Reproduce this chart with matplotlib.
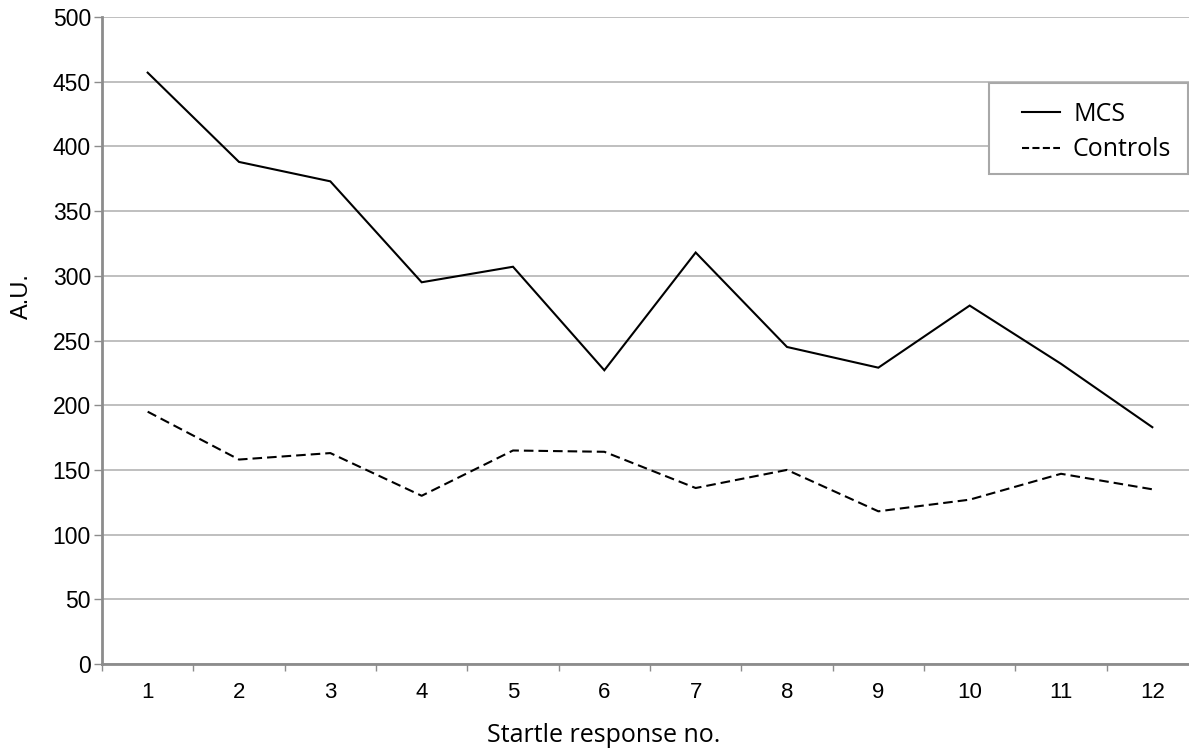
import matplotlib
matplotlib.use('Agg')
import matplotlib.pyplot as plt
from matplotlib.lines import Line2D
from matplotlib.patches import Rectangle
import numpy as np

# Startle responses (A.U.)
responses = list(range(1, 13))
mcs = [457, 388, 373, 295, 307, 227, 318, 245, 229, 277, 232, 183]
controls = [195, 158, 163, 130, 165, 164, 136, 150, 118, 127, 147, 135]
y_ticks = [0, 50, 100, 150, 200, 250, 300, 350, 400, 450, 500]

grid_col = '#b4b4b4'
spine_col = '#8c8c8c'
W, H = 1189, 749

fig = plt.figure(figsize=(W / 100, H / 100), dpi=100)
# axes run slightly past the right edge, as in the cropped original
ax = fig.add_axes([102 / W, 85 / H, 1096 / W, 647 / H])

ax.plot(responses, mcs, color='black', linewidth=1.5, solid_joinstyle='miter')
ax.plot(responses, controls, color='black', linewidth=1.5, dashes=(4.6, 2.4))

ax.set_xlim(0.5, 12.5)
ax.set_ylim(0, 500)
ax.set_yticks(y_ticks)
ax.set_xticks(responses)
ax.set_xticks(np.arange(0.5, 13, 1), minor=True)
ax.tick_params(axis='x', which='major', length=0, pad=13, labelsize=16)
ax.tick_params(axis='x', which='minor', length=5, width=1, color=spine_col, direction='out')
ax.tick_params(axis='y', length=6, width=1, color=spine_col, labelsize=16.5, pad=2)
for lab in ax.get_xticklabels() + ax.get_yticklabels():
    lab.set_fontfamily('Liberation Sans')

ax.yaxis.grid(True, color=grid_col, linewidth=1.2)
ax.set_axisbelow(True)
for side in ['top', 'right']:
    ax.spines[side].set_visible(False)
for side in ['left', 'bottom']:
    ax.spines[side].set_color(spine_col)
    ax.spines[side].set_linewidth(2)

fig.text(22 / W, 1 - 296 / H, 'A.U.', fontsize=17, family='Liberation Sans',
         rotation=90, ha='center', va='center')
fig.text(604 / W, 1 - 735 / H, 'Startle response no.', fontsize=18,
         family='Open Sans', ha='center', va='center')

# legend box drawn separately so the padding can match the original
fig.patches.append(Rectangle((989 / W, 1 - 174 / H), 199 / W, 91 / H,
                             transform=fig.transFigure, facecolor='white',
                             edgecolor='#a8a8a8', linewidth=1.5, zorder=5))
handles = [Line2D([], [], color='black', linewidth=1.5),
           Line2D([], [], color='black', linewidth=1.5, dashes=(3.4, 1.6))]
leg = fig.legend(handles, ['MCS', 'Controls'], loc='upper left',
                 bbox_to_anchor=(1022 / W, 1 - 102 / H),
                 frameon=False, prop={'family': 'Open Sans', 'size': 18},
                 handlelength=1.52, handletextpad=0.52, borderpad=0,
                 labelspacing=0.42, borderaxespad=0)
leg.set_zorder(6)

fig.savefig('out.png', dpi=100, facecolor='white')
